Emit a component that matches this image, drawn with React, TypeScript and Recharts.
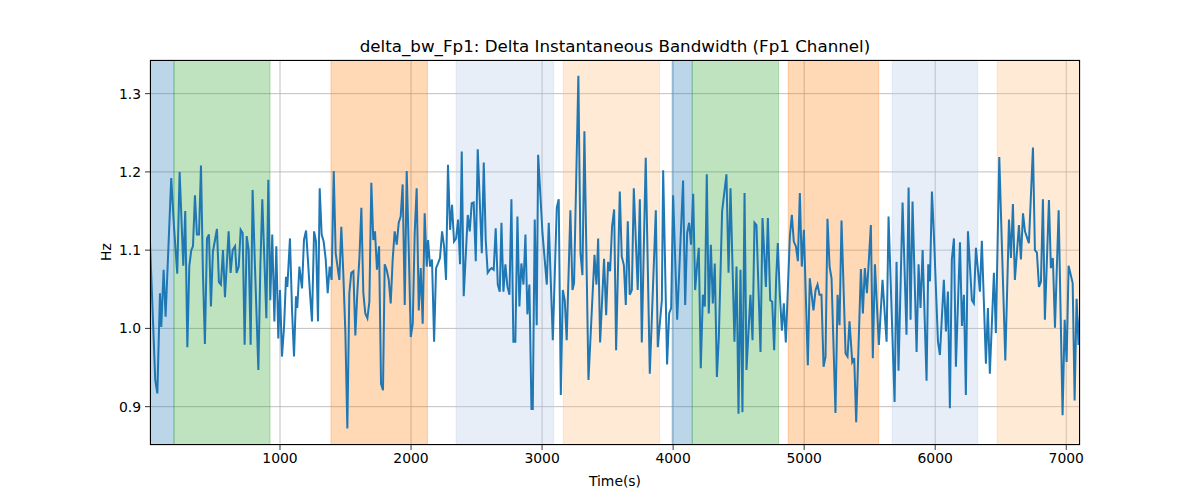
import React from "react";
import { LineChart, Line, XAxis, YAxis, CartesianGrid, ReferenceArea } from "recharts";

const timeS: number[] = [
  8,48,64,84,94,112,127,170,191,216,234,262,277,293,308,323,336,351,366,382,397,412,427,443,458,473,488,519,534,549,565,580,
  608,623,639,657,669,685,700,715,730,746,761,776,791,809,835,850,865,896,911,926,941,957,972,987,1000,1015,1031,1046,1056,1076,1092,1107,1122,1132,1148,1168,
  1183,1199,1229,1244,1260,1275,1290,1303,1318,1333,1349,1364,1379,1394,1410,1425,1453,1468,1483,1499,1514,1529,1544,1560,1575,1590,1606,1621,1636,1651,1667,1682,1697,1712,1725,1740,1756,1771,
  1786,1799,1814,1830,1845,1860,1875,1891,1906,1921,1936,1952,1967,1982,1998,2013,2028,2043,2059,2074,2089,2104,2120,2130,2145,2160,2176,2191,2206,2221,2237,2252,2267,2282,2298,2313,2328,2344,2359,
  2374,2387,2402,2433,2448,2463,2478,2494,2509,2540,2555,2570,2585,2601,2616,2631,2646,2662,2677,2690,2705,2720,2735,2751,2766,2781,2796,2812,2827,2842,2858,2873,2888,2903,2919,2929,2944,2959,
  2970,3003,3036,3051,3082,3112,3127,3143,3158,3173,3188,3216,3232,3244,3277,3293,3308,3323,3354,3400,3415,3428,3443,3473,3489,3504,3519,3534,3550,
  3565,3593,3608,3624,3639,3654,3669,3685,3700,3730,3746,3761,3791,3822,3868,3883,3914,3924,3954,3970,3985,4000,4031,4076,4092,4107,4122,4137,4153,
  4168,4183,4196,4211,4227,4242,4257,4272,4288,4303,4318,4334,4349,4374,4407,4423,4438,4468,4484,4499,4514,4529,4545,4560,4590,4606,4621,4636,4667,4682,4708,4723,4741,
  4756,4771,4786,4799,4814,4830,4845,4860,4891,4906,4921,4937,4952,4967,4982,4998,5028,5043,5071,5087,5102,5117,5132,5148,5163,5178,5194,5209,5239,5255,5270,5285,5316,5331,5346,
  5367,5382,5397,5433,5448,5463,5479,5509,5524,5540,5570,5598,5629,5644,5690,5705,5720,5751,5781,5797,5812,5827,5858,5873,5888,5904,5934,
  5947,5960,5975,5990,6021,6036,6066,6082,6097,6112,6127,6143,6158,6189,6204,6219,6234,6250,6280,6295,6311,6341,6356,6387,6402,6417,6448,6463,6489,
  6535,6563,6578,6593,6608,6639,6654,6670,6685,6715,6746,6761,6776,6792,6807,6822,6837,6868,6883,6898,6914,6942,6972,6988,7003,7018,7049,7064,7079,7094,7105,
];

const bwHz: number[] = [
  1.110,0.934,0.917,1.045,1.002,1.075,1.015,1.192,1.13,1.07,1.2,1.08,1.15,0.976,1.08,1.10,1.105,1.17,1.12,1.12,1.208,1.07,0.98,1.115,1.12,1.028,1.098,1.127,1.059,1.056,1.1,1.04,
  1.124,1.071,1.100,1.105,1.071,1.079,1.126,1.122,0.979,1.118,1.100,0.979,1.177,1.079,0.947,1.079,1.165,1.013,1.190,1.036,1.120,1.009,1.105,0.987,1.049,0.964,1.002,1.066,1.053,1.115,1.023,0.964,1.041,1.026,1.079,1.051,
  1.113,1.125,1.045,1.009,1.124,1.111,1.009,1.179,1.120,1.111,1.088,1.045,1.079,1.062,1.201,1.096,1.062,1.130,1.071,0.994,0.872,1.045,1.071,1.073,0.991,1.045,1.090,1.154,1.045,1.019,1.013,1.034,1.186,1.113,1.124,1.075,1.105,0.929,
  0.921,1.082,1.075,1.062,1.032,1.088,1.124,1.107,1.135,1.143,1.184,1.030,1.201,1.105,0.989,1.006,1.122,1.179,1.023,1.077,1.006,1.147,1.079,1.113,1.079,1.088,0.983,1.077,1.083,1.090,1.124,1.105,1.062,1.209,1.126,1.158,1.111,1.115,1.139,
  1.082,1.226,1.041,1.145,1.124,1.16,1.161,1.086,1.229,1.096,1.212,1.113,1.071,1.075,1.077,1.075,1.128,1.056,1.047,1.135,1.047,1.082,1.054,1.043,1.165,0.983,0.983,1.143,1.028,1.083,1.056,1.120,1.018,1.056,0.897,0.897,1.139,1.004,
  1.222,1.122,1.056,1.135,0.985,1.154,1.165,0.915,1.049,1.036,0.985,1.151,1.049,1.058,1.323,1.096,1.068,1.252,0.934,1.094,1.056,1.115,0.982,1.089,1.017,1.085,1.073,1.130,1.152,
  0.972,1.175,1.092,1.081,1.030,1.137,1.043,1.049,1.179,1.049,1.165,0.982,1.218,0.942,1.151,0.976,1.036,1.202,0.954,1.019,1.026,1.170,1.011,1.189,1.030,1.122,1.135,1.107,1.172,
  1.049,1.081,1.103,0.949,1.043,1.028,1.197,1.019,1.107,1.032,1.083,0.938,0.990,1.150,1.197,1.071,1.179,0.983,1.079,0.891,1.075,0.893,1.173,0.947,1.043,0.985,1.135,1.132,0.970,1.141,1.053,1.141,1.036,
  1.034,0.972,1.062,1.109,1.045,0.997,1.032,0.982,1.118,1.145,1.111,1.105,1.086,1.173,1.079,1.126,0.953,1.064,1.023,1.049,1.056,1.043,1.043,0.951,0.964,1.140,1.079,1.064,0.892,1.043,1.004,1.138,0.968,0.964,1.009,
  0.957,0.962,0.880,1.076,1.019,1.077,1.045,1.132,0.962,1.082,0.979,1.062,0.983,1.143,0.906,1.085,0.946,1.161,0.992,1.180,1.011,1.162,0.970,1.082,1.026,1.100,0.933,
  1.082,1.060,1.175,1.120,0.983,0.966,1.062,0.996,1.047,0.898,1.088,1.115,0.951,1.110,1.003,1.043,0.915,1.124,1.036,1.032,1.103,1.047,1.112,0.955,1.026,0.942,1.071,0.994,1.219,
  0.959,1.139,1.090,1.159,1.062,1.132,1.088,1.147,1.124,1.109,1.231,1.100,1.097,1.053,1.060,1.165,1.011,1.164,1.077,1.090,1.001,1.151,0.889,1.011,0.957,1.080,1.058,0.908,1.038,0.979,1.017,
];

const bandStarts: number[] = [8, 191, 1389, 2344, 3162, 3992, 4146, 4878, 5672, 6473];
const bandEnds: number[] = [191, 924, 2125, 3088, 3897, 4146, 4805, 5569, 6325, 7105];
const bandColors: string[] = ["#1f77b4", "#2ca02c", "#ff7f0e", "#aec7e8", "#ffbb78", "#1f77b4", "#2ca02c", "#ff7f0e", "#aec7e8", "#ffbb78"];

const xTicks: number[] = [1000, 2000, 3000, 4000, 5000, 6000, 7000];
const yTicks: number[] = [0.9, 1.0, 1.1, 1.2, 1.3];
const xDomain: number[] = [8, 7105];
const yDomain: number[] = [0.851, 1.343];

const titleText = "delta_bw_Fp1: Delta Instantaneous Bandwidth (Fp1 Channel)";
const xLabel = "Time(s)";
const yLabel = "Hz";

const data = timeS.map((t, i) => ({ t, v: bwHz[i] }));

export default function App() {
  const font = "'DejaVu Sans', sans-serif";
  return (
    <div style={{ position: "absolute", left: 0, top: 0, width: 1200, height: 500, background: "#fff", fontFamily: font }}>
      <LineChart width={1200} height={500} data={data} margin={{ top: 60, right: 120, left: 90, bottom: 25 }}>
        <CartesianGrid stroke="#b0b0b0" strokeWidth={0.8} />
        {bandStarts.map((s, i) => (
          <ReferenceArea
            key={i}
            x1={s}
            x2={bandEnds[i]}
            fill={bandColors[i]}
            fillOpacity={0.3}
            stroke={bandColors[i]}
            strokeOpacity={0.3}
            ifOverflow="hidden"
          />
        ))}
        <XAxis
          dataKey="t"
          type="number"
          domain={xDomain}
          ticks={xTicks}
          allowDataOverflow
          height={30}
          axisLine={false}
          tickSize={5}
          tickMargin={3}
          tickLine={{ stroke: "#000", strokeWidth: 0.8 }}
          tick={{ fill: "#000", fontSize: 13.9, fontFamily: font }}
        />
        <YAxis
          type="number"
          domain={yDomain}
          ticks={yTicks}
          allowDataOverflow
          width={60}
          axisLine={false}
          tickSize={5}
          tickMargin={4}
          tickFormatter={(v: number) => v.toFixed(1)}
          tickLine={{ stroke: "#000", strokeWidth: 0.8 }}
          tick={{ fill: "#000", fontSize: 13.9, fontFamily: font }}
        />
        <Line
          type="linear"
          dataKey="v"
          stroke="#1f77b4"
          strokeWidth={2}
          dot={false}
          isAnimationActive={false}
        />
      </LineChart>
      <div style={{ position: "absolute", left: 150, top: 60, width: 930, height: 385, border: "1px solid #000", boxSizing: "border-box", pointerEvents: "none" }} />
      <div style={{ position: "absolute", left: 150, top: 36, width: 930, textAlign: "center", fontSize: 16.7, lineHeight: "20px", color: "#000" }}>{titleText}</div>
      <div style={{ position: "absolute", left: 150, top: 472, width: 930, textAlign: "center", fontSize: 13.9, lineHeight: "18px", color: "#000" }}>{xLabel}</div>
      <div style={{ position: "absolute", left: 106, top: 252, transform: "translate(-50%, -50%) rotate(-90deg)", fontSize: 13.9, lineHeight: "18px", color: "#000" }}>{yLabel}</div>
    </div>
  );
}
